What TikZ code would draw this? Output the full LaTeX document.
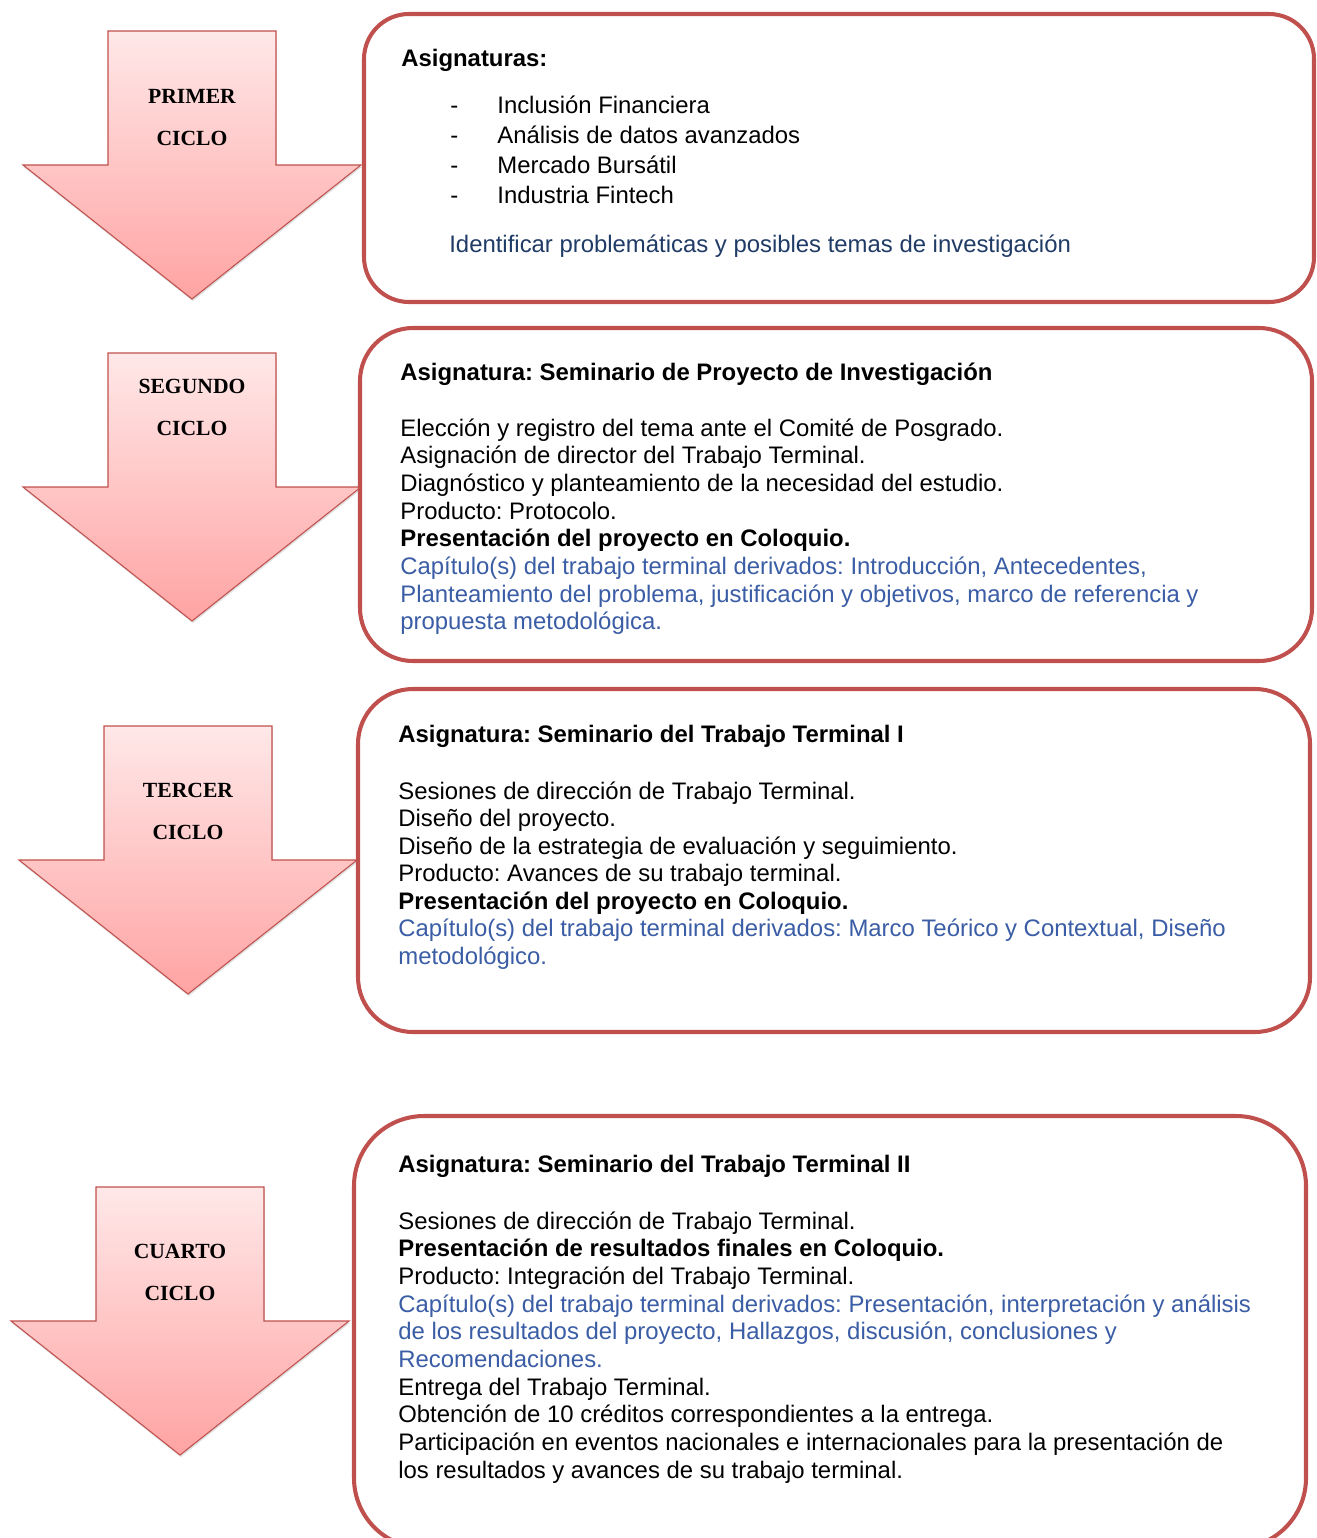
\documentclass[tikz,border=0pt]{standalone}
\usepackage{fontspec}
\setmainfont{Liberation Sans}
\newfontfamily\cyclefont{Liberation Serif}
\usepackage{xcolor}
\usetikzlibrary{shadows}
\definecolor{cyclered}{HTML}{C0504D}
\definecolor{capblue}{HTML}{3A5DA5}
\definecolor{goalblue}{HTML}{1F3B66}
\frenchspacing

% name, x of centre, y of shaft top, y of first label line, two label words
\newcommand{\cyclearrow}[6]{%
  \draw[arrowshape] (#2-84,#3) -- (#2+84,#3) -- (#2+84,#3+134) -- (#2+169,#3+134)
    -- (#2,#3+268) -- (#2-169,#3+134) -- (#2-84,#3+134) -- cycle;
  \node[arrowlab] (#1-a) at (#2,#4) {#5};
  \node[arrowlab] (#1-b) at (#2,#4+42) {#6};
}

\begin{document}
\begin{tikzpicture}[
  x=0.02cm, y=-0.02cm,
  arrowshape/.style={draw=cyclered,line width=0.6pt,top color=red!9,bottom color=red!36,
                     drop shadow={shadow xshift=0.4pt,shadow yshift=-1.2pt,opacity=0.25}},
  arrowlab/.style={anchor=base,inner sep=0pt,font=\cyclefont\bfseries\fontsize{12.3}{14}\selectfont},
  cyclebox/.style={draw=cyclered,line width=2.3pt,fill=white},
  body/.style={anchor=base west,inner sep=0pt,font=\fontsize{13.6}{15}\selectfont},
  head/.style={body,font=\bfseries\fontsize{13.6}{15}\selectfont}
]
\clip (0,0) rectangle (1316,1538);

% cycle arrows
\cyclearrow{first}{192}{31}{103}{PRIMER}{CICLO}
\cyclearrow{second}{192}{353}{393}{SEGUNDO}{CICLO}
\cyclearrow{third}{188}{726}{797}{TERCER}{CICLO}
\cyclearrow{fourth}{180}{1187}{1258}{CUARTO}{CICLO}

% boxes
\draw[cyclebox,rounded corners=0.9cm]  (364,14)   rectangle (1314,302);
\draw[cyclebox,rounded corners=1.06cm] (360,328)  rectangle (1312,661);
\draw[cyclebox,rounded corners=1.1cm]  (358,689)  rectangle (1310,1032);
\draw[cyclebox,rounded corners=1.4cm]  (354,1116) rectangle (1306,1548);

% first cycle
\node[head] (one-h) at (401,66) {Asignaturas:};
\foreach \t [count=\i] in {Inclusión Financiera,Análisis de datos avanzados,
    Mercado Bursátil,Industria Fintech}{
  \node[body] (one-d\i) at (450,113+30*\i-30) {-};
  \node[body] (one-\i) at (497,113+30*\i-30) {\t};
}
\node[body,text=goalblue] (one-g) at (449,252)
  {Identificar problemáticas y posibles temas de investigación};

% second cycle
\node[head] (two-h) at (400,380) {Asignatura: Seminario de Proyecto de Investigación};
\foreach \t [count=\i] in {
    {Elección y registro del tema ante el Comité de Posgrado.},
    {Asignación de director del Trabajo Terminal.},
    {Diagnóstico y planteamiento de la necesidad del estudio.},
    {Producto: Protocolo.},
    {\bfseries Presentación del proyecto en Coloquio.},
    {\color{capblue}Capítulo(s) del trabajo terminal derivados: Introducción, Antecedentes,},
    {\color{capblue}Planteamiento del problema, justificación y objetivos, marco de referencia y},
    {\color{capblue}propuesta metodológica.}}{
  \node[body] (two-\i) at (400,436+27.7*\i-27.7) {\t};
}

% third cycle
\node[head] (three-h) at (398,742) {Asignatura: Seminario del Trabajo Terminal I};
\foreach \t [count=\i] in {
    {Sesiones de dirección de Trabajo Terminal.},
    {Diseño del proyecto.},
    {Diseño de la estrategia de evaluación y seguimiento.},
    {Producto: Avances de su trabajo terminal.},
    {\bfseries Presentación del proyecto en Coloquio.},
    {\color{capblue}Capítulo(s) del trabajo terminal derivados: Marco Teórico y Contextual, Diseño},
    {\color{capblue}metodológico.}}{
  \node[body] (three-\i) at (398,799+27.5*\i-27.5) {\t};
}

% fourth cycle
\node[head] (four-h) at (398,1172) {Asignatura: Seminario del Trabajo Terminal II};
\foreach \t [count=\i] in {
    {Sesiones de dirección de Trabajo Terminal.},
    {\bfseries Presentación de resultados finales en Coloquio.},
    {Producto: Integración del Trabajo Terminal.},
    {\color{capblue}Capítulo(s) del trabajo terminal derivados: Presentación, interpretación y análisis},
    {\color{capblue}de los resultados del proyecto, Hallazgos, discusión, conclusiones y},
    {\color{capblue}Recomendaciones.},
    {Entrega del Trabajo Terminal.},
    {Obtención de 10 créditos correspondientes a la entrega.},
    {Participación en eventos nacionales e internacionales para la presentación de},
    {los resultados y avances de su trabajo terminal.}}{
  \node[body] (four-\i) at (398,1229+27.67*\i-27.67) {\t};
}
\end{tikzpicture}
\end{document}
